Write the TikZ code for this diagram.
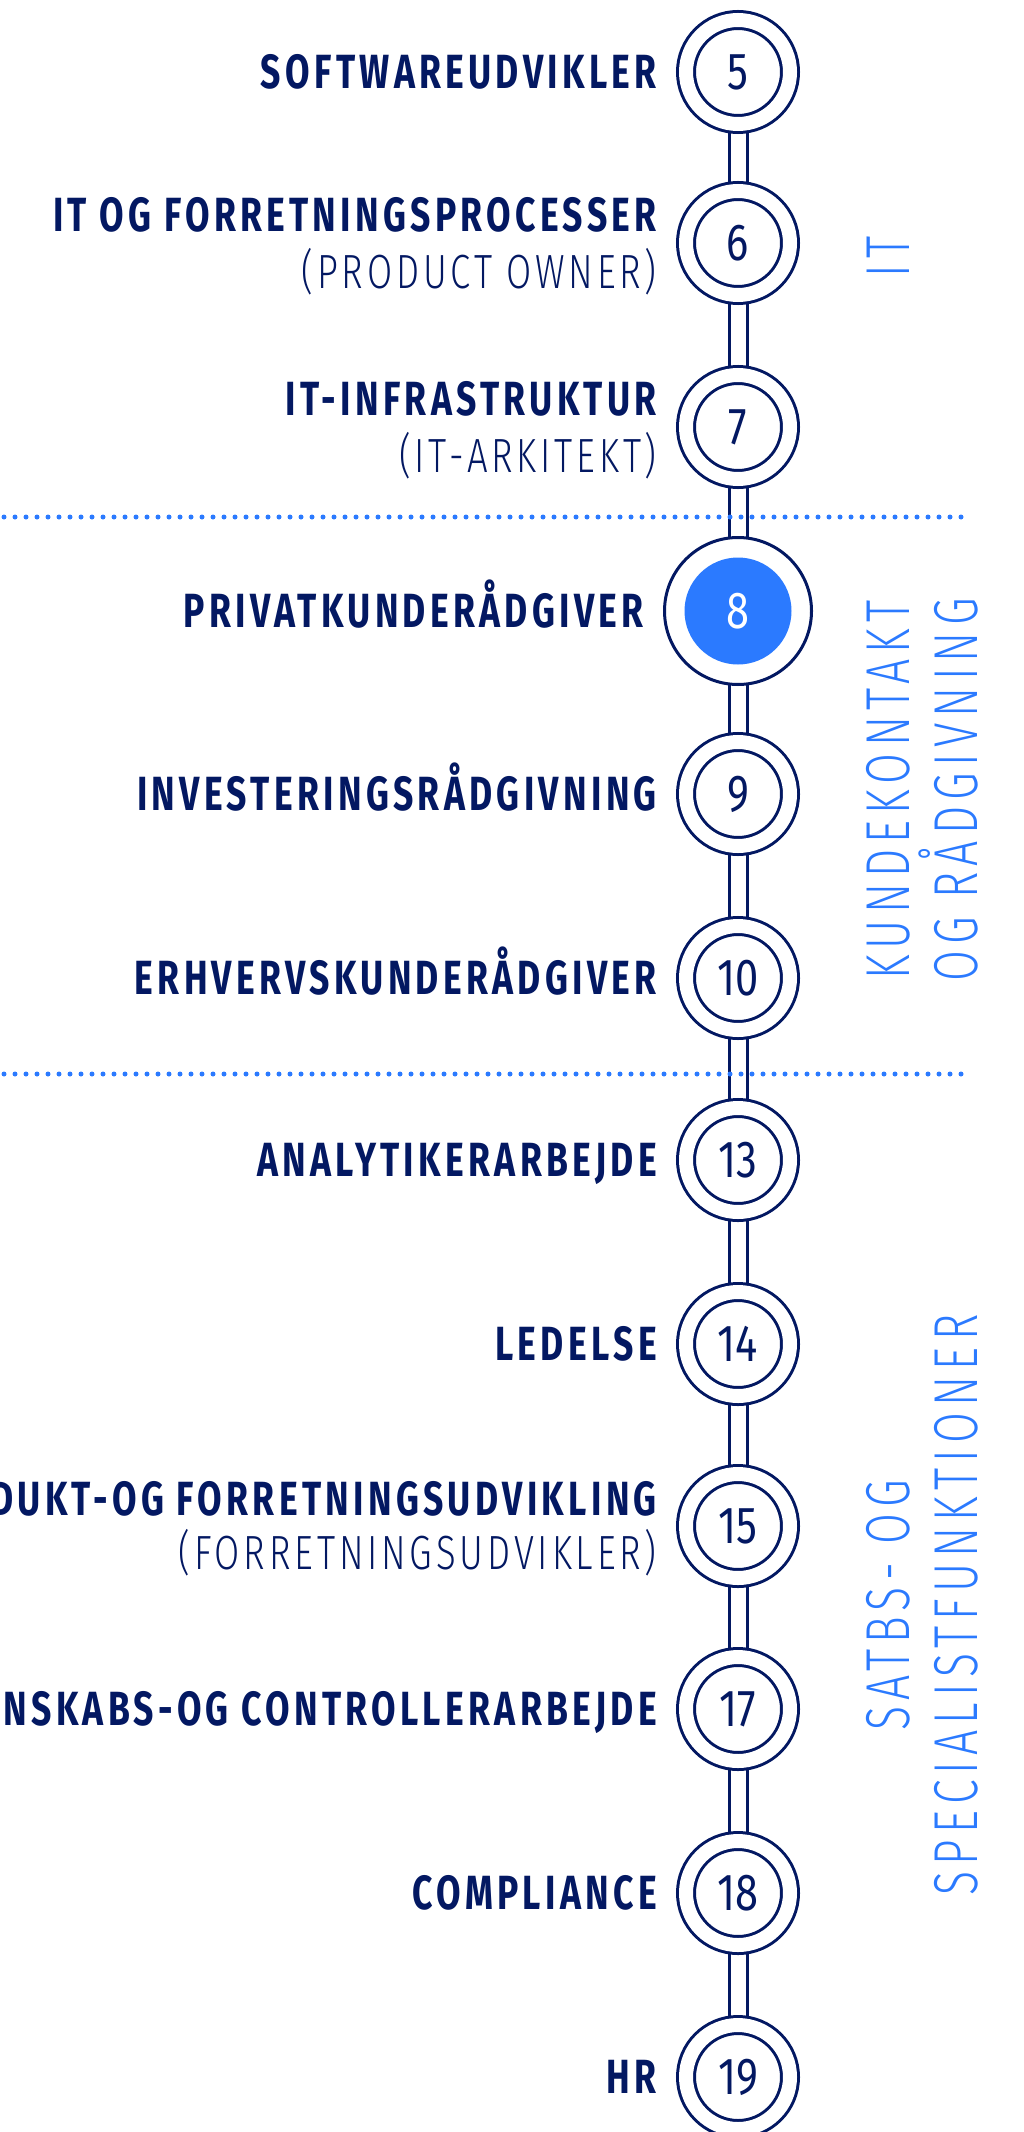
\documentclass[tikz,border=0pt]{standalone}
\usepackage{fontspec}
\usepackage{tikz}
\usetikzlibrary{positioning,backgrounds,calc}
\newfontfamily\boldlbl[FakeStretch=0.74,LetterSpace=9]{Fira Sans Bold}
\newfontfamily\thinlbl[FakeStretch=0.76,LetterSpace=8]{Fira Sans Light}
\newfontfamily\sidelbl[FakeStretch=0.72,LetterSpace=10]{Fira Sans Light}
\newfontfamily\numlbl[FakeStretch=0.8]{Fira Sans}
\definecolor{navy}{RGB}{3,24,98}
\definecolor{azure}{RGB}{43,122,255}
\begin{document}
\begin{tikzpicture}[x=1pt,y=-1pt,
		ring/.style={circle, minimum size=104pt, inner sep=0pt, outer sep=10pt, draw=navy, double=white,
		double distance=14pt, line width=3pt, fill=white, text=navy, font=\numlbl\fontsize{52}{52}\selectfont},
		bigring/.style={circle, minimum size=147pt, inner sep=0pt, outer sep=1.5pt, draw=navy, line width=3pt, fill=white},
		hot/.style={circle, minimum size=107pt, inner sep=0pt, fill=azure, text=white, font=\numlbl\fontsize{52}{52}\selectfont},
		rail/.style={draw=navy, double=white, double distance=15pt, line width=3pt},
		title/.style={inner sep=0pt, text=navy, text height=33pt, text depth=0pt, font=\boldlbl\fontsize{48}{48}\selectfont},
		sub/.style={inner sep=0pt, text=navy, text height=33pt, text depth=0pt, font=\thinlbl\fontsize{48}{48}\selectfont},
		side/.style={rotate=90, text=azure, align=center, font=\sidelbl\fontsize{62}{68}\selectfont},
		sep/.style={azure, line width=5pt, line cap=round, dash pattern=on 0pt off 11pt}]
		\useasboundingbox (0,0) rectangle (1024,2132);
		\clip (0,0) rectangle (1024,2132);
		% steps
		\node[ring] (c5) at (738,72) {5};
		\node[ring] (c6) at (738,243) {6};
		\node[ring] (c7) at (738,427) {7};
		\node[bigring] (c8) at (738,611) {};
		\node[hot] (n8) at (c8) {8};
		\node[ring] (c9) at (738,794) {9};
		\node[ring] (c10) at (738,978) {10};
		\node[ring] (c13) at (738,1160) {13};
		\node[ring] (c14) at (738,1344) {14};
		\node[ring] (c15) at (738,1526) {15};
		\node[ring] (c17) at (738,1709) {17};
		\node[ring] (c18) at (738,1893) {18};
		\node[ring] (c19) at (738,2077) {19};
		% labels
		\node[title, left=19pt of c5] (t5) {SOFTWAREUDVIKLER};
		\node[title, left=19pt of c6, yshift=28pt] (t6) {IT OG FORRETNINGSPROCESSER};
		\node[sub, left=19pt of c6, yshift=-29pt] (s6) {(PRODUCT OWNER)};
		\node[title, left=19pt of c7, yshift=28pt] (t7) {IT-INFRASTRUKTUR};
		\node[sub, left=19pt of c7, yshift=-29pt] (s7) {(IT-ARKITEKT)};
		\node[title, left=19pt of c8] (t8) {PRIVATKUNDERÅDGIVER};
		\node[title, left=19pt of c9] (t9) {INVESTERINGSRÅDGIVNING};
		\node[title, left=19pt of c10] (t10) {ERHVERVSKUNDERÅDGIVER};
		\node[title, left=19pt of c13] (t13) {ANALYTIKERARBEJDE};
		\node[title, left=19pt of c14] (t14) {LEDELSE};
		\node[title, left=19pt of c15, yshift=27pt] (t15) {PRODUKT-OG FORRETNINGSUDVIKLING};
		\node[sub, left=19pt of c15, yshift=-27pt] (s15) {(FORRETNINGSUDVIKLER)};
		\node[title, left=19pt of c17] (t17) {REGNSKABS-OG CONTROLLERARBEJDE};
		\node[title, left=19pt of c18] (t18) {COMPLIANCE};
		\node[title, left=19pt of c19] (t19) {HR};
		% groups
		\node[side] (g1) at (888,257) {IT};
		\node[side] (g2) at (922,790) {KUNDEKONTAKT\\OG RÅDGIVNING};
		\node[side] (g3) at (922,1605) {SATBS- OG\\SPECIALISTFUNKTIONER};
		\coordinate (d1a) at (4,517);
		\coordinate (d1b) at (965,517);
		\coordinate (d2a) at (4,1074);
		\coordinate (d2b) at (965,1074);
		\begin{scope}[on background layer]
			\foreach \a/\b in {5/6,6/7,7/8,8/9,9/10,10/13,13/14,14/15,15/17,17/18,18/19}
				\draw[rail] (c\a.center) -- (c\b.center);
			\draw[sep] (d1a) -- (d1b);
			\draw[sep] (d2a) -- (d2b);
		\end{scope}
	\end{tikzpicture}
\end{document}
